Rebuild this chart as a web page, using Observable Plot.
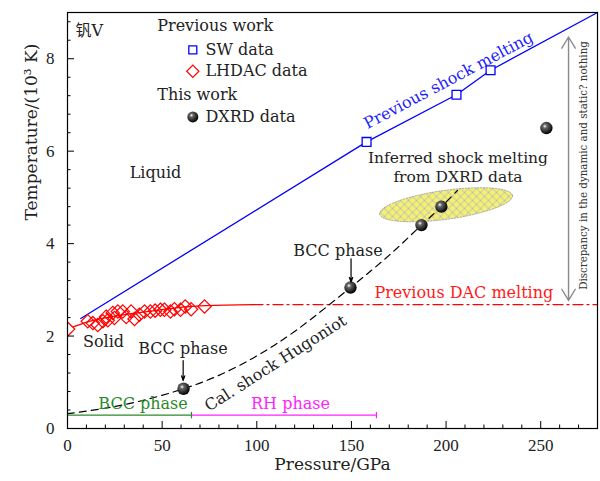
<!DOCTYPE html>
<html><head><meta charset="utf-8">
<script src="https://cdn.jsdelivr.net/npm/d3@7"></script>
<script src="https://cdn.jsdelivr.net/npm/@observablehq/plot@0.6"></script>
<style>body{margin:0;background:#fff}</style>
</head><body><div id="chart"></div>
<script>
// ---- data ----
const swP = [158, 205.5, 223.5];
const swT = [6.2, 7.22, 7.75];
const lhP = [10.7,13.4,16.0,18.7,20.4,21.3,23.9,24.8,26.6,29.2,31.0,33.6,35.4,38.0,40.7,43.8,46.3,49.1,51.2,54.4,56.5,59.7,62.2,65.3,72.4];
const lhT = [2.32,2.28,2.24,2.32,2.42,2.34,2.50,2.39,2.53,2.53,2.41,2.53,2.37,2.46,2.53,2.53,2.55,2.57,2.57,2.53,2.58,2.57,2.64,2.58,2.64];
const lhEdgeP = [0.3], lhEdgeT = [2.15];
const dxP = [61.3, 149.5, 187, 197.5, 253];
const dxT = [0.86, 3.05, 4.4, 4.8, 6.5];
const shockMeltP = [7, 158, 205.5, 223.5, 280];
const shockMeltT = [2.38, 6.2, 7.22, 7.75, 9.0];
const dacSolidP = [0, 11, 40, 73, 98];
const dacSolidT = [2.15, 2.31, 2.52, 2.66, 2.68];
const dacDashP = [98, 280];
const dacDashT = [2.68, 2.68];
const hugP = [0, 20, 40, 61.3, 80, 100, 120, 149.5, 170, 187, 197.5, 206];
const hugT = [0.32, 0.44, 0.61, 0.86, 1.15, 1.57, 2.1, 3.05, 3.75, 4.4, 4.8, 5.15];
const bccRange = [0, 65.5], rhRange = [65.5, 163.2], phaseT = 0.29;
const ellCenter = [200, 4.84], ellU = [35.1, 0.2], ellV = [-1.06, 0.31];
const xTicks = [0, 50, 100, 150, 200, 250];
const yTicks = [0, 2, 4, 6, 8];

const pts = (P, T) => P.map((p, i) => ({P: p, T: T[i]}));
const ell = d3.range(0, 73).map(i => {
  const t = i / 72 * 2 * Math.PI;
  return {P: ellCenter[0] + ellU[0]*Math.cos(t) + ellV[0]*Math.sin(t),
          T: ellCenter[1] + ellU[1]*Math.cos(t) + ellV[1]*Math.sin(t)};
});
const xMinor = d3.range(0, 281, 10).filter(v => v % 50 !== 0);
const yMinor = d3.range(0, 9.01, 0.4).map(v => +v.toFixed(1)).filter(v => Math.abs(v/2 - Math.round(v/2)) > 1e-6);

const serif = "'DejaVu Serif', 'Noto Sans CJK SC', serif";
const txt = "#222";

const startLabels = [
  {P: 4.2, T: 8.61, text: "钒V"},
  {P: 47.4, T: 8.70, text: "Previous work"},
  {P: 72.9, T: 8.19, text: "SW data"},
  {P: 72.9, T: 7.73, text: "LHDAC data"},
  {P: 47.4, T: 7.22, text: "This work"},
  {P: 72.9, T: 6.74, text: "DXRD data"}
];
const midLabels = [
  {P: 46.5, T: 5.54, text: "Liquid", fill: txt},
  {P: 19, T: 1.87, text: "Solid", fill: txt},
  {P: 61, T: 1.73, text: "BCC phase", fill: txt},
  {P: 142.9, T: 3.85, text: "BCC phase", fill: txt},
  {P: 209.4, T: 2.93, text: "Previous DAC melting", fill: "#ff1a1a"},
  {P: 39.9, T: 0.53, text: "BCC phase", fill: "#2a8a2a"},
  {P: 117.8, T: 0.53, text: "RH phase", fill: "#ff22ff"}
];
const inferredLabels = [
  {P: 206.3, T: 5.86, text: "Inferred shock melting"},
  {P: 206.3, T: 5.45, text: "from DXRD data"}
];
const rotLabels = [
  {P: 201.3, T: 7.53, text: "Previous shock melting", rotate: -28, fill: "#2222ff"},
  {P: 109.9, T: 1.41, text: "Cal. shock Hugoniot", rotate: -32.5, fill: txt}
];
const legendSym = [
  {P: 66.2, T: 8.19, kind: "sq"}, {P: 66.2, T: 7.73, kind: "di"}, {P: 66.2, T: 6.74, kind: "sp"}
];
const bccArrows = [{P: 61.1, T1: 1.47, T2: 1.04}, {P: 149.8, T1: 3.67, T2: 3.17}];
const phaseEnds = [{P: bccRange[1], c: "#2a8a2a"}, {P: rhRange[1], c: "#ff22ff"}];
const discP = 264.7, discLow = 2.77, discHigh = 8.47;

const chart = Plot.plot({
  width: 600, height: 481,
  marginLeft: 67, marginRight: 3, marginTop: 12, marginBottom: 53,
  x: {domain: [0, 280]},
  y: {domain: [0, 9]},
  style: {fontFamily: serif, fontSize: "17px", background: "#fff", color: "#000"},
  marks: [
    Plot.line(ell, {x: "P", y: "T", fill: "url(#hatch)", stroke: "#9a9a9a", strokeWidth: 0.8, strokeDasharray: "1.5,1.5"}),
    Plot.line(pts(shockMeltP, shockMeltT), {x: "P", y: "T", stroke: "#0000ff", strokeWidth: 1.3}),
    Plot.line(pts(dacSolidP, dacSolidT), {x: "P", y: "T", stroke: "#ff0000", strokeWidth: 1.3, curve: "monotone-x"}),
    Plot.line(pts(dacDashP, dacDashT), {x: "P", y: "T", stroke: "#ff0000", strokeWidth: 1.3, strokeDasharray: "10,4,2,4"}),
    Plot.line(pts(hugP, hugT), {x: "P", y: "T", stroke: "#000", strokeWidth: 1.2, strokeDasharray: "7,5", curve: "catmull-rom"}),
    Plot.ruleY([phaseT], {x1: bccRange[0], x2: bccRange[1], stroke: "#2a8a2a", strokeWidth: 1.4}),
    Plot.ruleY([phaseT], {x1: rhRange[0], x2: rhRange[1], stroke: "#ff22ff", strokeWidth: 1.4}),
    Plot.link(phaseEnds, {x1: "P", x2: "P", y1: phaseT - 0.07, y2: phaseT + 0.07, stroke: "c", strokeWidth: 1.2}),
    Plot.dot(pts(lhEdgeP, lhEdgeT), {x: "P", y: "T", symbol: "diamond2", r: 6, stroke: "#ff0000", fill: "#fff", strokeWidth: 1.2, clip: true}),
    Plot.dot(pts(lhP, lhT), {x: "P", y: "T", symbol: "diamond2", r: 6, stroke: "#ff0000", fill: "none", strokeWidth: 1.2}),
    Plot.dot(pts(swP, swT), {x: "P", y: "T", symbol: "square", r: 5, stroke: "#0000ff", fill: "#fff", strokeWidth: 1.3}),
    Plot.dot(pts(dxP, dxT), {x: "P", y: "T", r: 6.2, fill: "url(#sphere)", stroke: "none"}),
    Plot.dot(legendSym.filter(d => d.kind === "sq"), {x: "P", y: "T", symbol: "square", r: 4.5, stroke: "#0000ff", fill: "#fff", strokeWidth: 1.3}),
    Plot.dot(legendSym.filter(d => d.kind === "di"), {x: "P", y: "T", symbol: "diamond2", r: 5.5, stroke: "#ff0000", fill: "#fff", strokeWidth: 1.2}),
    Plot.dot(legendSym.filter(d => d.kind === "sp"), {x: "P", y: "T", r: 5.5, fill: "url(#sphere)", stroke: "none"}),
    Plot.arrow(bccArrows, {x1: "P", y1: "T1", x2: "P", y2: "T2", stroke: "#000", strokeWidth: 1.2, headLength: 6, headAngle: 40}),
    Plot.arrow([{P: discP, a: (discLow + discHigh) / 2, b: discHigh}, {P: discP, a: (discLow + discHigh) / 2, b: discLow}],
      {x1: "P", y1: "a", x2: "P", y2: "b", stroke: "#8a8a8a", strokeWidth: 1.4, headLength: 14, headAngle: 62}),
    Plot.text(startLabels, {x: "P", y: "T", text: "text", textAnchor: "start", fill: txt, fontSize: 16}),
    Plot.text(midLabels, {x: "P", y: "T", text: "text", fill: "fill", fontSize: 16}),
    Plot.text(inferredLabels, {x: "P", y: "T", text: "text", fill: txt, fontSize: 15.5}),
    Plot.text(rotLabels, {x: "P", y: "T", text: "text", rotate: "rotate", fill: "fill", fontSize: 16}),
    Plot.text(["Discrepancy in the dynamic and static? nothing"], {x: 272.8, y: 5.69, rotate: -90, fontSize: 10.3, fill: "#333"}),
    Plot.tickX(xTicks, {x: d => d, insetTop: 409, stroke: "#000"}),
    Plot.tickX(xMinor, {x: d => d, insetTop: 412.5, stroke: "#000"}),
    Plot.tickY(yTicks, {y: d => d, insetRight: 523, stroke: "#000"}),
    Plot.tickY(yMinor, {y: d => d, insetRight: 526.5, stroke: "#000"}),
    Plot.axisX({ticks: xTicks, tickSize: 0, tickPadding: 10, label: null, fontSize: 17, fontFamily: "'Liberation Serif', serif", fill: "#222"}),
    Plot.axisY({ticks: yTicks, tickSize: 0, tickPadding: 13, label: null, fontSize: 17, fontFamily: "'Liberation Serif', serif", fill: "#222"}),
    Plot.text(["Pressure/GPa"], {frameAnchor: "bottom", dy: 41, fontSize: 17, fill: "#222"}),
    Plot.text(["Temperature/(10³ K)"], {frameAnchor: "left", dx: -36, rotate: -90, fontSize: 17, fill: "#222"}),
    Plot.frame({stroke: "#000", strokeWidth: 1.2})
  ]
});

const svg = d3.select(chart);
const defs = svg.insert("defs", ":first-child");
const grad = defs.append("radialGradient").attr("id", "sphere").attr("cx", "38%").attr("cy", "35%").attr("r", "65%");
grad.append("stop").attr("offset", "0%").attr("stop-color", "#ffffff");
grad.append("stop").attr("offset", "25%").attr("stop-color", "#666");
grad.append("stop").attr("offset", "100%").attr("stop-color", "#000");
const pat = defs.append("pattern").attr("id", "hatch").attr("patternUnits", "userSpaceOnUse").attr("width", 8).attr("height", 8);
pat.append("rect").attr("width", 8).attr("height", 8).attr("fill", "#f4f070");
pat.append("path").attr("d", "M0,0L8,8M-2,6L2,10M6,-2L10,2M8,0L0,8M-2,2L2,-2M6,10L10,6").attr("stroke", "#bdbdbd").attr("stroke-width", 1);
document.getElementById("chart").appendChild(chart);
</script>
</body></html>
